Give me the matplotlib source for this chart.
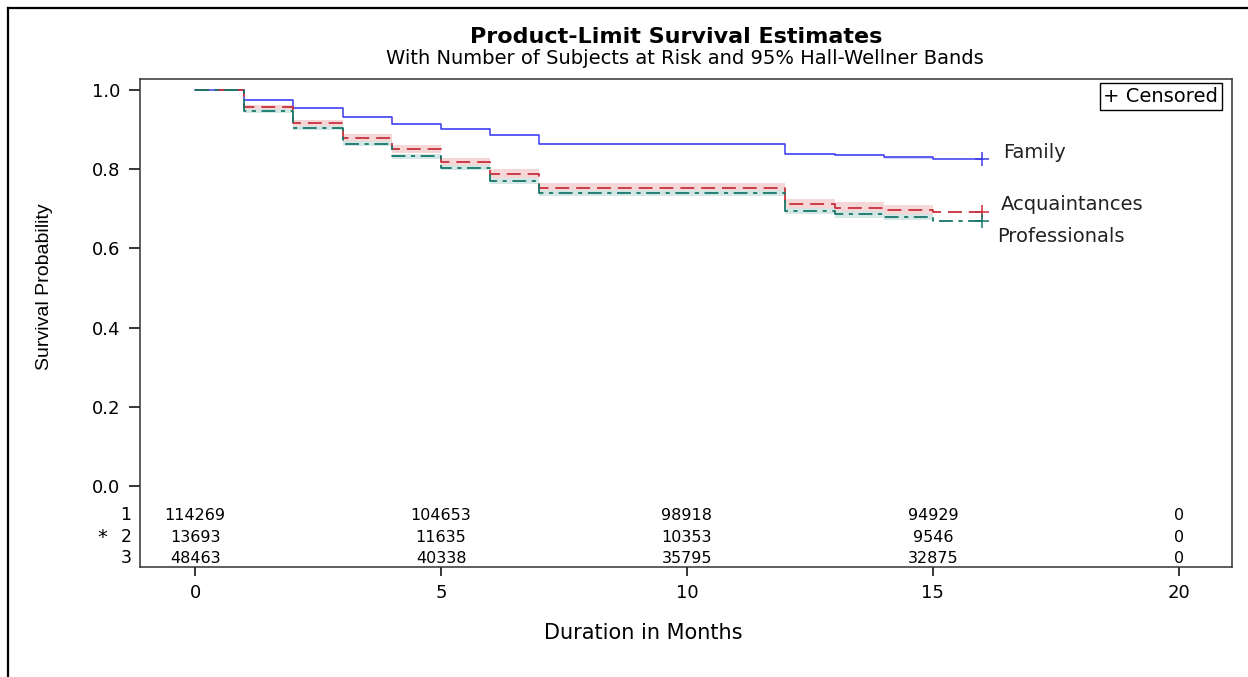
import numpy as np
import matplotlib
matplotlib.use('Agg')
import matplotlib.pyplot as plt
from matplotlib.lines import Line2D

plt.rcParams['lines.scale_dashes'] = False

# step times and survival estimates
times = [0, 1, 2, 3, 4, 5, 6, 7, 12, 13, 14, 15, 16]
family = [1.0, 0.975, 0.954, 0.932, 0.915, 0.901, 0.886, 0.864, 0.839, 0.836, 0.830, 0.825, 0.825]
acquaint = [1.0, 0.956, 0.917, 0.879, 0.851, 0.819, 0.789, 0.753, 0.712, 0.703, 0.697, 0.691, 0.691]
profess = [1.0, 0.947, 0.905, 0.865, 0.833, 0.804, 0.770, 0.740, 0.694, 0.686, 0.680, 0.670, 0.670]

# Hall-Wellner bands (estimated)
band_t = [1, 2, 3, 4, 5, 6, 7, 12, 13, 14, 15]
fam_lo = [0.973, 0.951, 0.929, 0.912, 0.898, 0.883, 0.861, 0.836, 0.833, 0.827, 0.827]
fam_hi = [0.977, 0.957, 0.935, 0.918, 0.904, 0.889, 0.867, 0.842, 0.839, 0.833, 0.833]
acq_lo = [0.950, 0.909, 0.870, 0.841, 0.809, 0.778, 0.741, 0.699, 0.690, 0.684, 0.684]
acq_hi = [0.962, 0.925, 0.888, 0.861, 0.829, 0.800, 0.765, 0.725, 0.716, 0.710, 0.710]
pro_lo = [0.943, 0.900, 0.859, 0.827, 0.797, 0.763, 0.733, 0.686, 0.678, 0.672, 0.672]
pro_hi = [0.951, 0.910, 0.871, 0.839, 0.811, 0.777, 0.747, 0.702, 0.694, 0.688, 0.688]

# number at risk
risk_t = [0, 5, 10, 15, 20]
risk_1 = ['114269', '104653', '98918', '94929', '0']
risk_2 = ['13693', '11635', '10353', '9546', '0']
risk_3 = ['48463', '40338', '35795', '32875', '0']

c_fam = '#3b3bf0'
c_acq = '#c8303c'
c_pro = '#15766a'

fig = plt.figure(figsize=(12.48, 6.77), dpi=100)
ax = fig.add_axes([140/1248, 1-567/677, (1232-140)/1248, (567-79)/677])

ax.fill_between(band_t, fam_lo, fam_hi, step='post', color='#cfd3fb', lw=0)
ax.fill_between(band_t, acq_lo, acq_hi, step='post', color='#f5d3d3', lw=0, alpha=0.9)
ax.fill_between(band_t, pro_lo, pro_hi, step='post', color='#d2e6e3', lw=0, alpha=0.9)

ax.plot(times, family, drawstyle='steps-post', color=c_fam, lw=1.1)
ax.plot(times, acquaint, drawstyle='steps-post', color=c_acq, lw=1.3, linestyle=(0, (10, 5)))
ax.plot(times, profess, drawstyle='steps-post', color=c_pro, lw=1.3, linestyle=(0, (10, 4, 3, 4)))

# censored marks at the end
ax.plot(times[-1], family[-1], '+', color=c_fam, ms=10, mew=1.1)
ax.plot(times[-1], acquaint[-1], '+', color=c_acq, ms=10, mew=1.1)
ax.plot(times[-1], profess[-1], '+', color=c_pro, ms=10, mew=1.1)

ax.text(16.42, 0.843, 'Family', fontsize=14, color='#222222', va='center')
ax.text(16.38, 0.712, 'Acquaintances', fontsize=14, color='#222222', va='center')
ax.text(16.30, 0.631, 'Professionals', fontsize=14, color='#222222', va='center')

ax.text(0.9875, 0.9836, '+ Censored', transform=ax.transAxes, ha='right', va='top',
        fontsize=14, bbox=dict(boxstyle='square,pad=0.2', fc='white', ec='black', lw=1))

for x, a, b, c in zip(risk_t, risk_1, risk_2, risk_3):
    ax.text(x, -0.074, a, ha='center', va='center', fontsize=11.5)
    ax.text(x, -0.130, b, ha='center', va='center', fontsize=11.5)
    ax.text(x, -0.183, c, ha='center', va='center', fontsize=11.5)

tr = ax.get_yaxis_transform()
ax.text(-0.008, -0.074, '1', transform=tr, ha='right', va='center', fontsize=12.5)
ax.text(-0.008, -0.130, '2', transform=tr, ha='right', va='center', fontsize=12.5)
ax.text(-0.008, -0.183, '3', transform=tr, ha='right', va='center', fontsize=12.5)
ax.text(-0.030, -0.130, '*', transform=tr, ha='right', va='center', fontsize=14)

ax.set_xlim(-1.12, 21.08)
ax.set_ylim(-0.205, 1.028)
ax.set_xticks([0, 5, 10, 15, 20])
ax.set_yticks([0.0, 0.2, 0.4, 0.6, 0.8, 1.0])
ax.set_yticklabels(['0.0', '0.2', '0.4', '0.6', '0.8', '1.0'])
ax.tick_params(axis='y', length=8, width=1.1, pad=6, labelsize=13)
ax.tick_params(axis='x', length=6.5, width=1.1, pad=6, labelsize=13)
for s in ax.spines.values():
    s.set_linewidth(1.1)
    s.set_color('#333333')

ax.set_xlabel('Duration in Months', fontsize=15)
ax.xaxis.set_label_coords(0.4606, -0.115)
ax.set_ylabel('Survival Probability', fontsize=14, family='Liberation Sans')
ax.yaxis.set_label_coords(-0.08, 0.574)

fig.text(676/1248, 1-37/677, 'Product-Limit Survival Estimates', ha='center', va='center',
         fontsize=16, fontweight='bold')
fig.text(685/1248, 1-58/677, 'With Number of Subjects at Risk and 95% Hall-Wellner Bands',
         ha='center', va='center', fontsize=14)

# outer frame
fig.add_artist(Line2D([8/1248, 8/1248], [0, 1-8/677], transform=fig.transFigure, color='black', lw=1.6))
fig.add_artist(Line2D([8/1248, 1], [1-8/677, 1-8/677], transform=fig.transFigure, color='black', lw=1.6))

fig.savefig('out.png', dpi=100)
